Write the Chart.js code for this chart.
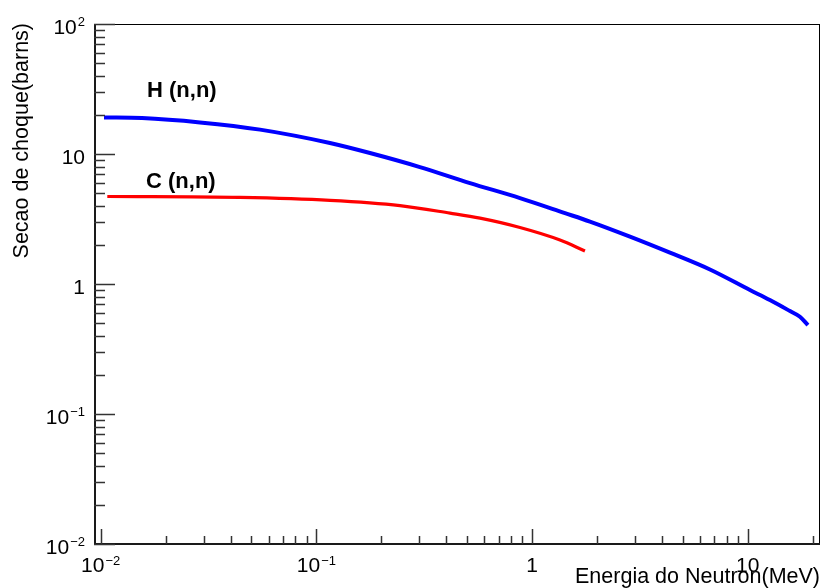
<!DOCTYPE html>
<html>
<head>
<meta charset="utf-8">
<title>Secao de choque elastica</title>
<script src="https://cdn.jsdelivr.net/npm/chart.js@4/dist/chart.umd.min.js"></script>
<style>
  html, body { margin: 0; padding: 0; background: #ffffff; }
  #wrap { width: 821px; height: 588px; }
</style>
</head>
<body>
<div id="wrap"><canvas id="c" width="821" height="588"></canvas></div>
<script>
// Elastic scattering cross sections, H(n,n) and C(n,n)
const hEnergy = [0.01036, 0.01554, 0.02886, 0.0548, 0.1156, 0.1772, 0.302, 0.5155, 0.879, 1.421, 1.855, 2.844, 4.359, 6.68, 10.24, 12.67, 15.70, 17.46, 19.01];
const hSigma  = [19.1, 18.9, 17.5, 15.4, 12.15, 10.17, 7.93, 5.97, 4.58, 3.51, 3.022, 2.315, 1.743, 1.293, 0.899, 0.753, 0.619, 0.560, 0.483];

const cEnergy = [0.01073, 0.0442, 0.1156, 0.2441, 0.4163, 0.5735, 0.879, 1.347, 1.759];
const cSigma  = [4.71, 4.63, 4.40, 4.01, 3.51, 3.21, 2.72, 2.18, 1.796];

// Axis ranges and tick labels (base, exponent)
const xRange = [0.009309, 21.63];
const yRange = [0.01, 100];
const xMajorTicks = [0.01, 0.1, 1, 10];
const xTickLabels = [['10', '\u22122'], ['10', '\u22121'], ['1', ''], ['10', '']];
const yMajorTicks = [0.01, 0.1, 1, 10, 100];
const yTickLabels = [['10', '\u22122'], ['10', '\u22121'], ['1', ''], ['10', ''], ['10', '2']];

const xTitle = 'Energia do Neutron(MeV)';
const yTitle = 'Secao de choque(barns)';
const seriesLabels = ['H (n,n)', 'C (n,n)'];

const FONT = "'Liberation Sans', Arial, Helvetica, sans-serif";

function toPoints(xs, ys) {
  return xs.map((x, i) => ({ x: x, y: ys[i] }));
}

// Draws "base^exp" with a raised, smaller exponent
function drawPower(ctx, base, exp, x, y, align) {
  ctx.font = '21px ' + FONT;
  const wBase = ctx.measureText(base).width;
  ctx.font = '13px ' + FONT;
  const wExp = exp ? ctx.measureText(exp).width + 1 : 0;
  const total = wBase + wExp;
  let x0 = x;
  if (align === 'center') x0 = x - total / 2;
  else if (align === 'right') x0 = x - total;
  ctx.textAlign = 'left';
  ctx.textBaseline = 'alphabetic';
  ctx.font = '21px ' + FONT;
  ctx.fillText(base, x0, y);
  if (exp) {
    ctx.font = '13px ' + FONT;
    ctx.fillText(exp, x0 + wBase + 1, y - 7.5);
  }
}

function minorValues(range) {
  const out = [];
  const lo = Math.floor(Math.log10(range[0]));
  const hi = Math.ceil(Math.log10(range[1]));
  for (let d = lo; d < hi; d++) {
    for (let m = 2; m <= 9; m++) {
      const v = m * Math.pow(10, d);
      if (v >= range[0] && v <= range[1]) out.push(v);
    }
  }
  return out;
}

// Frame, inward tick marks, tick labels and titles in the style of a ROOT canvas
const rootFrame = {
  id: 'rootFrame',
  afterDatasetsDraw(chart) {
    const ctx = chart.ctx;
    const a = chart.chartArea;
    const xs = chart.scales.x;
    const ys = chart.scales.y;
    ctx.save();

    // frame
    ctx.strokeStyle = '#000000';
    ctx.lineWidth = 1;
    ctx.strokeRect(a.left + 0.5, a.top + 0.5, a.right - a.left - 1, a.bottom - a.top);

    // axis lines
    ctx.strokeStyle = '#1a1a1a';
    ctx.lineWidth = 2;
    ctx.beginPath();
    ctx.moveTo(a.left + 1, a.top);
    ctx.lineTo(a.left + 1, a.bottom);
    ctx.moveTo(a.left, a.bottom);
    ctx.lineTo(a.right, a.bottom);
    ctx.stroke();

    // tick marks
    ctx.strokeStyle = '#333333';
    ctx.lineWidth = 1.5;
    ctx.beginPath();
    xMajorTicks.forEach(v => {
      const px = Math.round(xs.getPixelForValue(v)) + 0.5;
      ctx.moveTo(px, a.bottom);
      ctx.lineTo(px, a.bottom - 15);
    });
    minorValues(xRange).forEach(v => {
      const px = Math.round(xs.getPixelForValue(v)) + 0.5;
      ctx.moveTo(px, a.bottom);
      ctx.lineTo(px, a.bottom - 8);
    });
    yMajorTicks.forEach(v => {
      const py = Math.round(ys.getPixelForValue(v)) + 0.5;
      ctx.moveTo(a.left, py);
      ctx.lineTo(a.left + 21, py);
    });
    minorValues(yRange).forEach(v => {
      const py = Math.round(ys.getPixelForValue(v)) + 0.5;
      ctx.moveTo(a.left, py);
      ctx.lineTo(a.left + 11, py);
    });
    ctx.stroke();

    // tick labels
    ctx.fillStyle = '#000000';
    xMajorTicks.forEach((v, i) => {
      const px = xs.getPixelForValue(v);
      drawPower(ctx, xTickLabels[i][0], xTickLabels[i][1], px, a.bottom + 28, 'center');
    });
    yMajorTicks.forEach((v, i) => {
      const py = ys.getPixelForValue(v);
      drawPower(ctx, yTickLabels[i][0], yTickLabels[i][1], 85, py + 9.5, 'right');
    });

    // axis titles
    ctx.font = '21.5px ' + FONT;
    ctx.textAlign = 'right';
    ctx.textBaseline = 'alphabetic';
    ctx.fillText(xTitle, a.right, 583);

    ctx.save();
    ctx.translate(28, 23);
    ctx.rotate(-Math.PI / 2);
    ctx.textAlign = 'right';
    ctx.fillText(yTitle, 0, 0);
    ctx.restore();

    // curve labels
    ctx.font = 'bold 22px ' + FONT;
    ctx.textAlign = 'left';
    ctx.fillText(seriesLabels[0], 147, 97);
    ctx.fillText(seriesLabels[1], 146, 188);

    ctx.restore();
  }
};

new Chart(document.getElementById('c'), {
  type: 'scatter',
  data: {
    datasets: [
      {
        label: seriesLabels[0],
        data: toPoints(hEnergy, hSigma),
        showLine: true,
        borderColor: '#0000ff',
        backgroundColor: '#0000ff',
        borderWidth: 4,
        pointRadius: 0,
        cubicInterpolationMode: 'monotone'
      },
      {
        label: seriesLabels[1],
        data: toPoints(cEnergy, cSigma),
        showLine: true,
        borderColor: '#ff0000',
        backgroundColor: '#ff0000',
        borderWidth: 3.2,
        pointRadius: 0,
        cubicInterpolationMode: 'monotone'
      }
    ]
  },
  options: {
    responsive: false,
    animation: false,
    layout: { padding: { left: 94, right: 1, top: 24, bottom: 44 } },
    plugins: {
      legend: { display: false },
      tooltip: { enabled: false },
      title: { display: false }
    },
    scales: {
      x: { type: 'logarithmic', min: xRange[0], max: xRange[1], display: false },
      y: { type: 'logarithmic', min: yRange[0], max: yRange[1], display: false }
    }
  },
  plugins: [rootFrame]
});
</script>
</body>
</html>
